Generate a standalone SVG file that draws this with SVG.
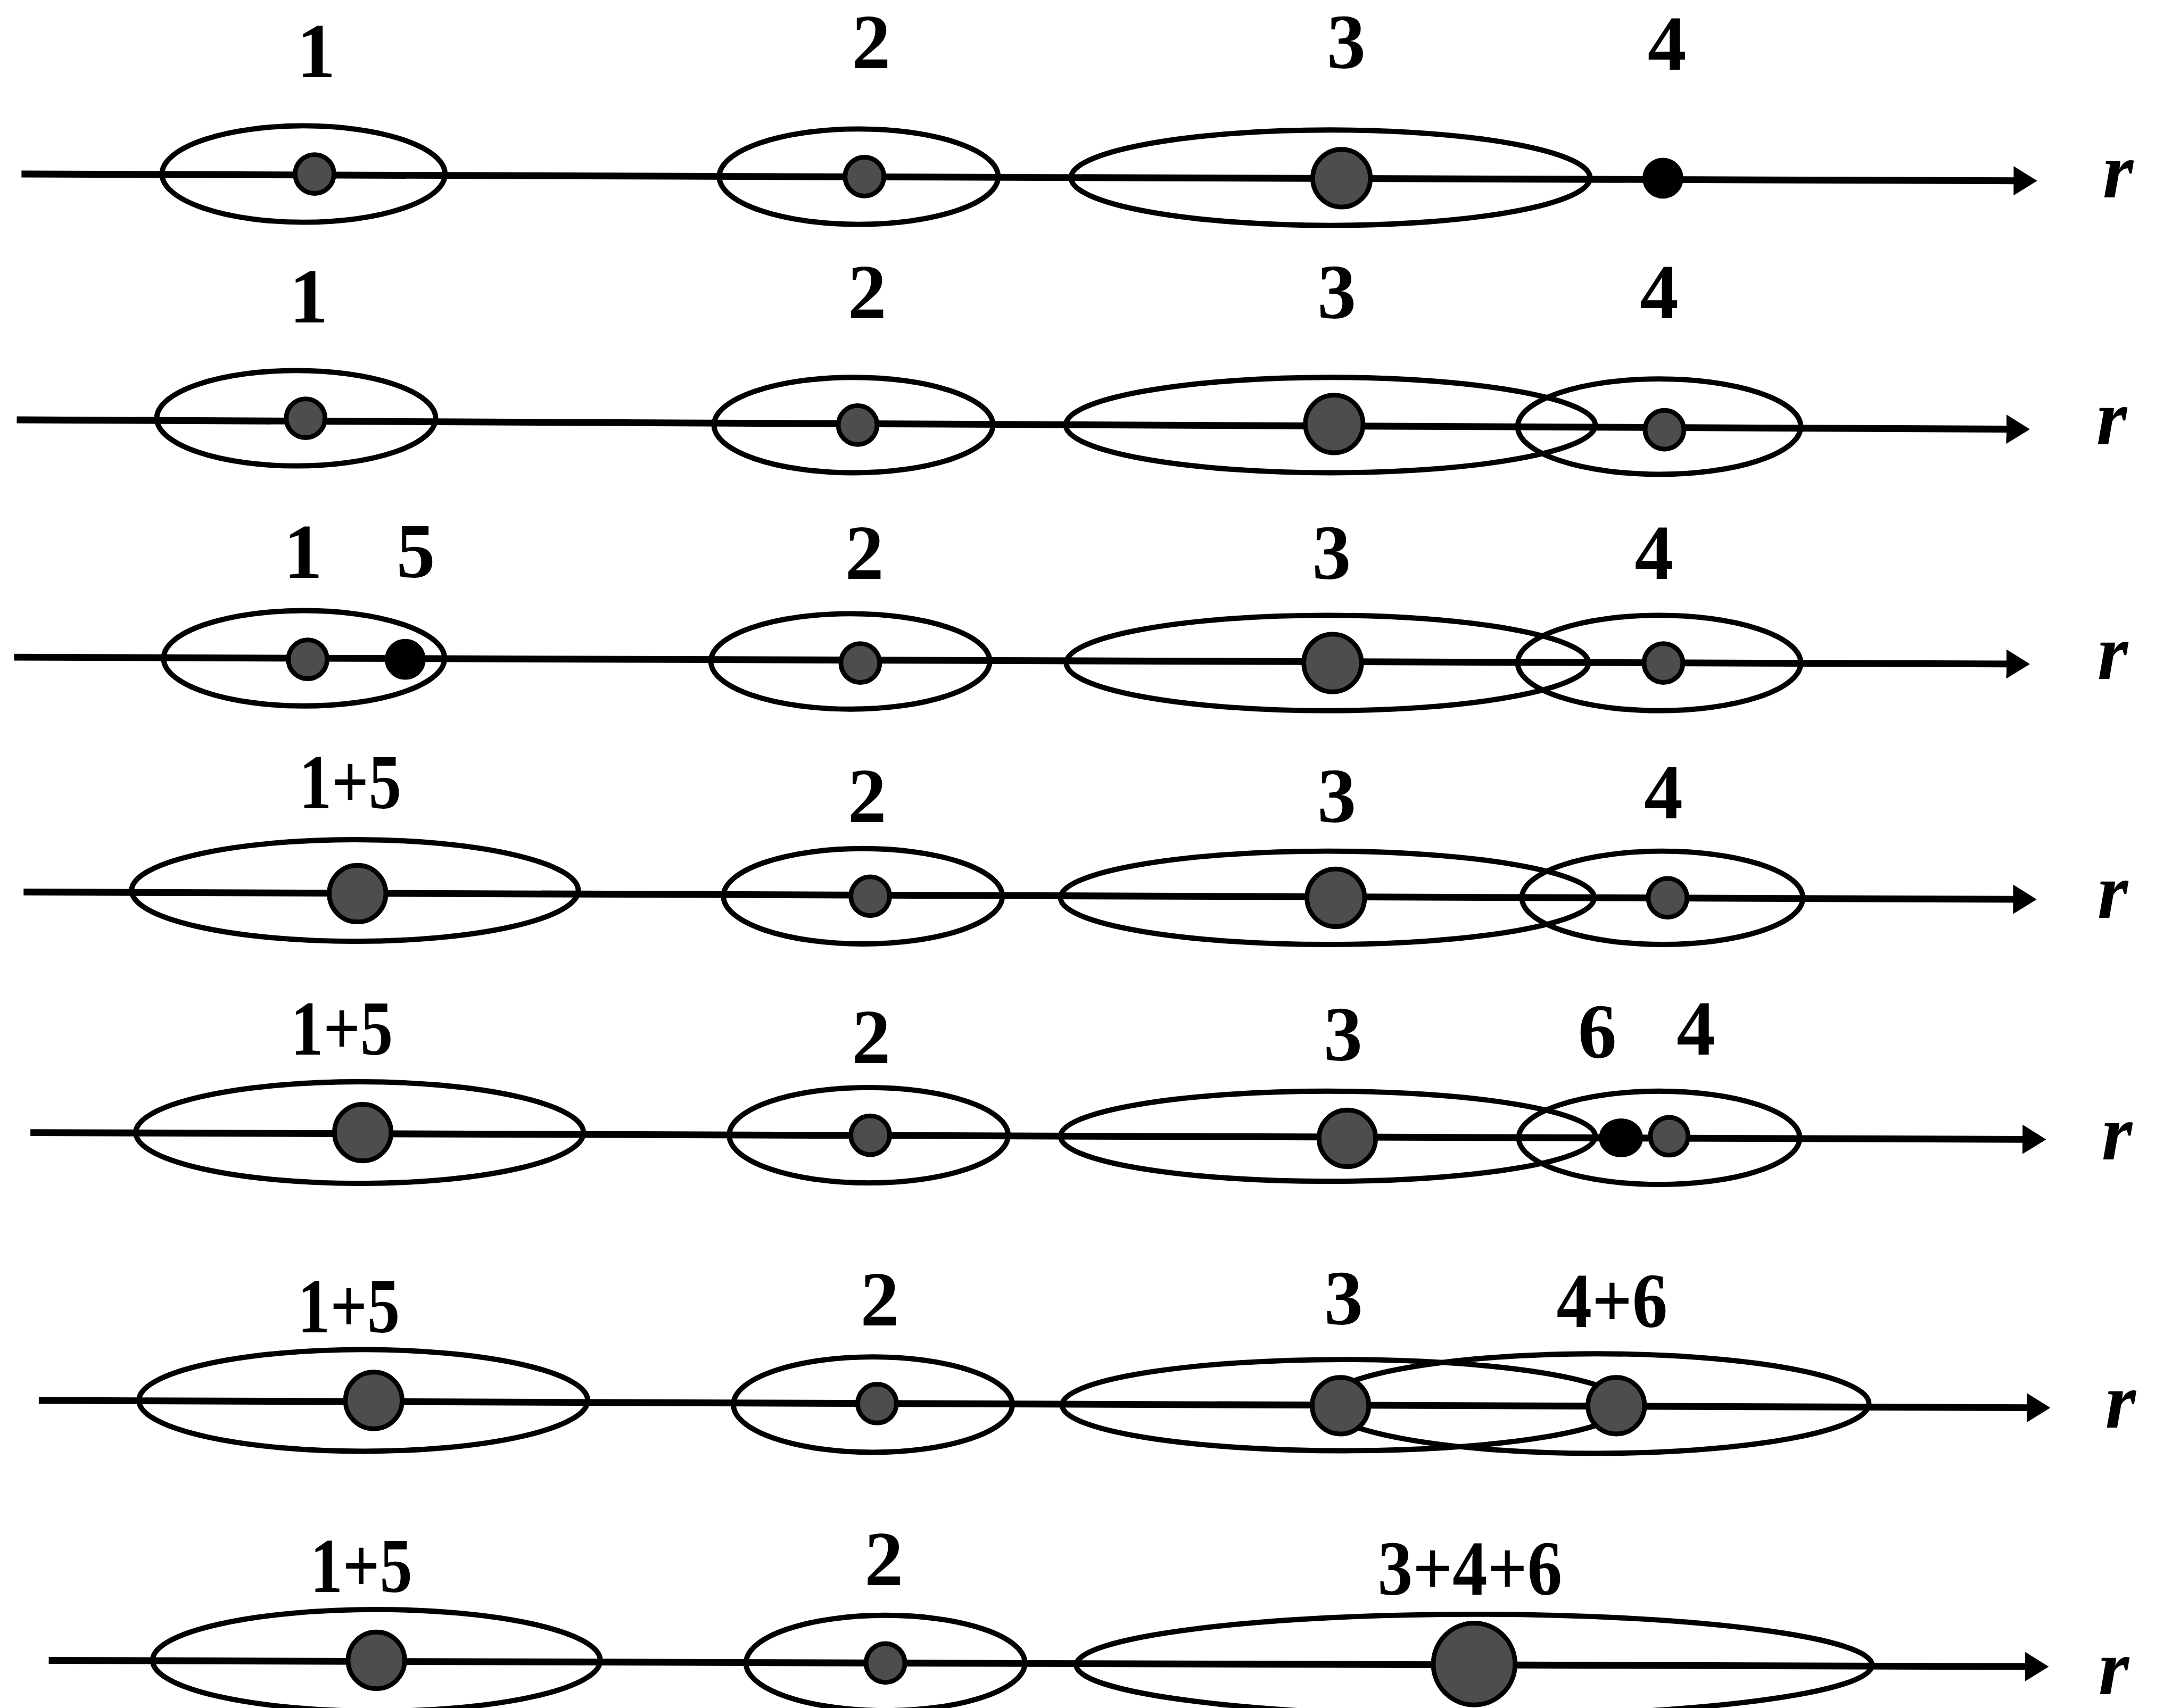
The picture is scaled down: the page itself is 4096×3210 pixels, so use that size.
<svg xmlns="http://www.w3.org/2000/svg" width="4096" height="3210" viewBox="0 0 4096 3210">
<style>
.e{fill:none;stroke:#000;stroke-width:10}
.ax{fill:none;stroke:#000;stroke-width:13}
.d{fill:#4d4d4d;stroke:#000;stroke-width:9}
.db{fill:#000;stroke:#000;stroke-width:4}
.t{font-family:"Liberation Serif","Times New Roman",serif;font-weight:bold;font-size:148px;text-anchor:middle;fill:#000}
.r{font-family:"Liberation Serif","Times New Roman",serif;font-weight:bold;font-style:italic;font-size:150px;text-anchor:middle;fill:#000}
</style>
<defs>
<marker id="arr" markerUnits="userSpaceOnUse" viewBox="0 0 45 56" refX="4" refY="28" markerWidth="45" markerHeight="56" orient="auto">
<path d="M0,0 L45,28 L0,56 z" fill="#000"/>
</marker>
</defs>
<rect width="4096" height="3210" fill="#fff"/>
<g transform="scale(0.985)">
<g id="axes">
<line class="ax" x1="41" y1="332" x2="3845" y2="344.9" marker-end="url(#arr)"/>
<line class="ax" x1="32" y1="801" x2="3831" y2="818.8" marker-end="url(#arr)"/>
<line class="ax" x1="27" y1="1254" x2="3831" y2="1266.9" marker-end="url(#arr)"/>
<line class="ax" x1="45" y1="1702" x2="3844" y2="1715.9" marker-end="url(#arr)"/>
<line class="ax" x1="58" y1="2161" x2="3862" y2="2173.9" marker-end="url(#arr)"/>
<line class="ax" x1="74" y1="2672" x2="3870" y2="2685.9" marker-end="url(#arr)"/>
<line class="ax" x1="93" y1="3168" x2="3867" y2="3179.9" marker-end="url(#arr)"/>
<text class="r" x="4040" y="377">r</text>
<text class="r" x="4028" y="848">r</text>
<text class="r" x="4030" y="1295">r</text>
<text class="r" x="4030" y="1751">r</text>
<text class="r" x="4038" y="2212">r</text>
<text class="r" x="4045" y="2724">r</text>
<text class="r" x="4032" y="3232">r</text>
</g>
<!-- Row 1 -->
<g id="r1-1"><ellipse class="e" cx="579" cy="332" rx="270" ry="92"/><circle class="d" cx="600" cy="332" r="37"/><text class="t" x="603" y="147">1</text></g>
<g id="r1-2"><ellipse class="e" cx="1638" cy="337" rx="266" ry="91"/><circle class="d" cx="1649" cy="337" r="37"/><text class="t" x="1662" y="130">2</text></g>
<g id="r1-3"><ellipse class="e" cx="2538" cy="339" rx="495" ry="91"/><circle class="d" cx="2559" cy="340" r="55"/><text class="t" x="2568" y="130">3</text></g>
<g id="r1-4"><circle class="db" cx="3172" cy="340" r="37"/><text class="t" x="3180" y="133">4</text></g>
<!-- Row 2 -->
<g id="r2-1"><ellipse class="e" cx="565" cy="798" rx="266" ry="91"/><circle class="d" cx="583" cy="798" r="37"/><text class="t" x="589" y="615">1</text></g>
<g id="r2-2"><ellipse class="e" cx="1628" cy="811" rx="266" ry="91"/><circle class="d" cx="1636" cy="811" r="37"/><text class="t" x="1654" y="607">2</text></g>
<g id="r2-3"><ellipse class="e" cx="2538" cy="811" rx="505" ry="91"/><circle class="d" cx="2545" cy="809" r="55"/><text class="t" x="2550" y="607">3</text></g>
<g id="r2-4"><ellipse class="e" cx="3165" cy="814" rx="270" ry="91"/><circle class="d" cx="3175" cy="820" r="37"/><text class="t" x="3165" y="607">4</text></g>
<!-- Row 3 -->
<g id="r3-1"><ellipse class="e" cx="580" cy="1256" rx="268" ry="91"/><circle class="d" cx="587" cy="1258" r="37"/><circle class="db" cx="773" cy="1258" r="37"/><text class="t" x="578" y="1103">1</text><text class="t" x="793" y="1102">5</text></g>
<g id="r3-2"><ellipse class="e" cx="1622" cy="1262" rx="266" ry="91"/><circle class="d" cx="1641" cy="1265" r="37"/><text class="t" x="1649" y="1105">2</text></g>
<g id="r3-3"><ellipse class="e" cx="2532" cy="1265" rx="498" ry="91"/><circle class="d" cx="2542" cy="1265" r="55"/><text class="t" x="2540" y="1105">3</text></g>
<g id="r3-4"><ellipse class="e" cx="3165" cy="1265" rx="270" ry="91"/><circle class="d" cx="3173" cy="1265" r="37"/><text class="t" x="3155" y="1105">4</text></g>
<!-- Row 4 -->
<g id="r4-15"><ellipse class="e" cx="677" cy="1699" rx="426" ry="97"/><circle class="d" cx="682" cy="1705" r="54"/><text class="t" x="668" y="1542" textLength="195" lengthAdjust="spacingAndGlyphs">1+5</text></g>
<g id="r4-2"><ellipse class="e" cx="1646" cy="1710" rx="266" ry="91"/><circle class="d" cx="1660" cy="1710" r="37"/><text class="t" x="1654" y="1569">2</text></g>
<g id="r4-3"><ellipse class="e" cx="2532" cy="1713" rx="509" ry="89"/><circle class="d" cx="2548" cy="1713" r="55"/><text class="t" x="2550" y="1569">3</text></g>
<g id="r4-4"><ellipse class="e" cx="3171" cy="1713" rx="268" ry="89"/><circle class="d" cx="3181" cy="1713" r="37"/><text class="t" x="3173" y="1561">4</text></g>
<!-- Row 5 -->
<g id="r5-15"><ellipse class="e" cx="686" cy="2161" rx="427" ry="97"/><circle class="d" cx="692" cy="2161" r="54"/><text class="t" x="652" y="2012" textLength="195" lengthAdjust="spacingAndGlyphs">1+5</text></g>
<g id="r5-2"><ellipse class="e" cx="1657" cy="2166" rx="266" ry="91"/><circle class="d" cx="1660" cy="2166" r="37"/><text class="t" x="1662" y="2028">2</text></g>
<g id="r5-3"><ellipse class="e" cx="2533" cy="2168" rx="510" ry="86"/><circle class="d" cx="2570" cy="2172" r="54"/><text class="t" x="2562" y="2023">3</text></g>
<g id="r5-4"><ellipse class="e" cx="3165" cy="2171" rx="268" ry="89"/><ellipse class="db" cx="3092" cy="2171" rx="40" ry="35"/><circle class="d" cx="3184" cy="2168" r="36"/><text class="t" x="3047" y="2018">6</text><text class="t" x="3235" y="2012">4</text></g>
<!-- Row 6 -->
<g id="r6-15"><ellipse class="e" cx="693" cy="2672" rx="428" ry="97"/><circle class="d" cx="713" cy="2672" r="54"/><text class="t" x="665" y="2542" textLength="195" lengthAdjust="spacingAndGlyphs">1+5</text></g>
<g id="r6-2"><ellipse class="e" cx="1665" cy="2680" rx="266" ry="91"/><circle class="d" cx="1673" cy="2678" r="37"/><text class="t" x="1678" y="2529">2</text></g>
<g id="r6-3"><ellipse class="e" cx="2563" cy="2681" rx="537" ry="87"/><text class="t" x="2563" y="2527">3</text></g>
<g id="r6-46"><ellipse class="e" cx="3045" cy="2678" rx="520" ry="95"/><text class="t" x="3075" y="2532" textLength="212" lengthAdjust="spacingAndGlyphs">4+6</text></g>
<circle class="d" cx="2557" cy="2682" r="54"/>
<circle class="d" cx="3083" cy="2682" r="54"/>
<!-- Row 7 -->
<g id="r7-15"><ellipse class="e" cx="718" cy="3168" rx="427" ry="97"/><circle class="d" cx="718" cy="3168" r="54"/><text class="t" x="689" y="3038" textLength="195" lengthAdjust="spacingAndGlyphs">1+5</text></g>
<g id="r7-2"><ellipse class="e" cx="1689" cy="3173" rx="266" ry="91"/><circle class="d" cx="1689" cy="3173" r="37"/><text class="t" x="1686" y="3024">2</text></g>
<g id="r7-346"><ellipse class="e" cx="2812" cy="3177" rx="759" ry="97"/><circle class="d" cx="2812" cy="3175" r="78"/><text class="t" x="2804" y="3043" textLength="352" lengthAdjust="spacingAndGlyphs">3+4+6</text></g>
</g>
</svg>
